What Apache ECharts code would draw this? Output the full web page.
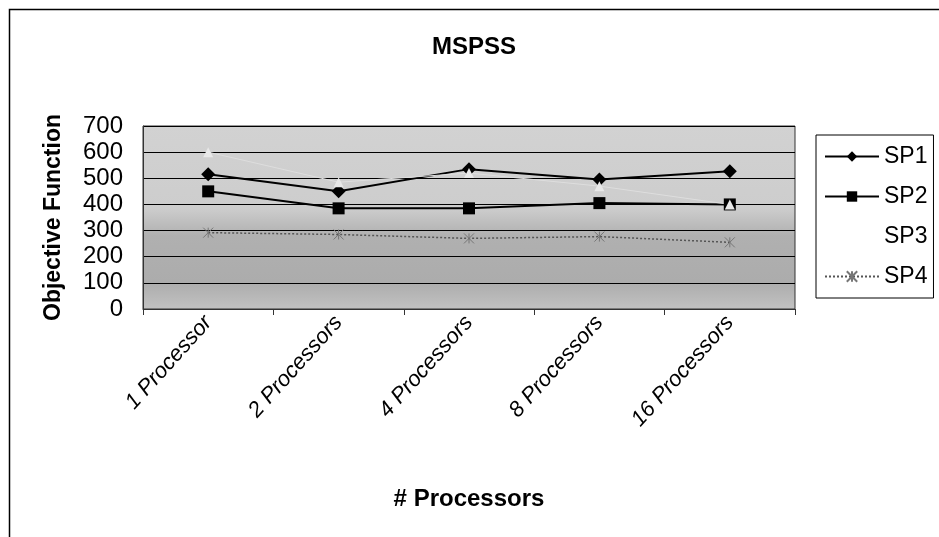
<!DOCTYPE html>
<html><head><meta charset="utf-8">
<script src="https://cdn.jsdelivr.net/npm/echarts@6/dist/echarts.min.js"></script>
<style>html,body{margin:0;padding:0;background:#fff}#c{width:939px;height:537px}</style>
</head><body><div id="c"></div>
<script>
const categories = ['1 Processor', '2 Processors', '4 Processors', '8 Processors', '16 Processors'];
const sp1 = [515, 450, 535, 495, 527];
const sp2 = [450, 385, 385, 405, 400];
const sp3 = [600, 485, 520, 470, 400];
const sp4 = [292, 285, 270, 277, 255];
const yTicks = [0, 100, 200, 300, 400, 500, 600, 700];

const FONT = '"Liberation Sans", Arial, sans-serif';
const chart = echarts.init(document.getElementById('c'), null, {renderer: 'canvas'});
chart.setOption({
  animation: false,
  backgroundColor: '#fff',
  title: {text: 'MSPSS', left: 469, textAlign: 'center', top: 30,
    textStyle: {fontFamily: FONT, fontSize: 24, fontWeight: 'bold', color: '#000'}},
  graphic: [{type: 'rect', left: 7, top: 7, shape: {width: 960, height: 560},
    style: {fill: 'none', stroke: '#000', lineWidth: 1.5}, silent: true}],
  grid: {left: 143, right: 144, top: 126, bottom: 228, show: true,
    borderColor: '#333', borderWidth: 1,
    backgroundColor: {type: 'linear', x: 0, y: 0, x2: 0, y2: 1, colorStops: [
      {offset: 0, color: '#d2d2d2'}, {offset: 0.45, color: '#cdcdcd'},
      {offset: 0.6, color: '#b0b0b0'}, {offset: 0.85, color: '#acacac'}, {offset: 1, color: '#c2c2c2'}]}},
  legend: {orient: 'vertical', left: 816, top: 135, width: 121,
    borderColor: '#000', borderWidth: 1, padding: [10, 6, 10, 8], itemGap: 17,
    itemWidth: 54, itemHeight: 13,
    textStyle: {fontFamily: FONT, fontSize: 23, color: '#000'},
    data: ['SP1', 'SP2',
      {name: 'SP3', itemStyle: {color: '#fff', opacity: 0}, lineStyle: {color: '#fff', opacity: 0}},
      'SP4']},
  xAxis: {type: 'category', data: categories, boundaryGap: true,
    axisLine: {lineStyle: {color: '#333', width: 1}},
    axisTick: {show: true, length: 6, lineStyle: {color: '#333'}},
    axisLabel: {rotate: 48, margin: 10, fontFamily: FONT, fontSize: 22, fontStyle: 'italic', color: '#000'},
    name: '# Processors', nameLocation: 'middle', nameGap: 178,
    nameTextStyle: {fontFamily: FONT, fontSize: 24, fontWeight: 'bold', color: '#000'}},
  yAxis: {type: 'value', min: yTicks[0], max: yTicks[yTicks.length - 1], interval: 100,
    axisLine: {show: true, lineStyle: {color: '#333'}},
    axisTick: {show: false},
    splitLine: {lineStyle: {color: '#000', width: 1}},
    axisLabel: {margin: 20, fontFamily: FONT, fontSize: 24, color: '#000'},
    name: 'Objective Function', nameLocation: 'middle', nameGap: 78,
    nameTextStyle: {fontFamily: FONT, fontSize: 23, fontWeight: 'bold', color: '#000'}},
  series: [
    {name: 'SP1', type: 'line', data: sp1, symbol: 'diamond', symbolSize: 14,
      lineStyle: {color: '#000', width: 2}, itemStyle: {color: '#000'}},
    {name: 'SP2', type: 'line', data: sp2, symbol: 'rect', symbolSize: 12,
      lineStyle: {color: '#000', width: 2}, itemStyle: {color: '#000'}},
    {name: 'SP3', type: 'line', data: sp3, symbol: 'triangle', symbolSize: 10,
      lineStyle: {color: '#dedede', width: 1}, itemStyle: {color: '#e8e8e8'}},
    {name: 'SP4', type: 'line', data: sp4, symbol: 'path://M0,0 L10,10 M10,0 L0,10 M5,0 L5,10', symbolSize: 10,
      lineStyle: {color: '#555', width: 1.5, type: [2, 2]},
      itemStyle: {color: 'none', borderColor: '#777', borderWidth: 1}}
  ]
});
</script></body></html>
